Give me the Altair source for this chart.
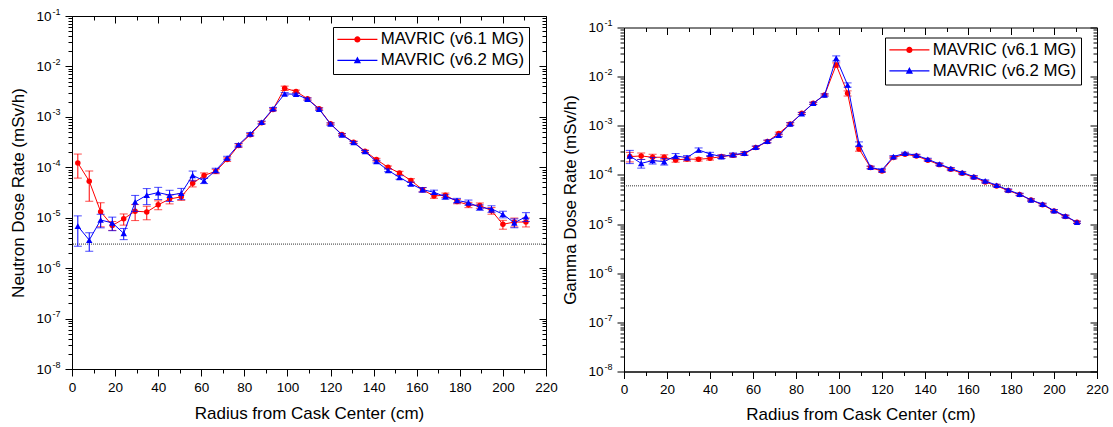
import altair as alt
import pandas as pd

# ---------------- data ----------------
radius = [2.7, 8.0, 13.3, 18.7, 24.0, 29.3, 34.7, 40.0, 45.3, 50.7,
          56.0, 61.3, 66.7, 72.0, 77.3, 82.7, 88.0, 93.3, 98.7, 104.0,
          109.3, 114.7, 120.0, 125.3, 130.7, 136.0, 141.3, 146.7, 152.0, 157.3,
          162.7, 168.0, 173.3, 178.7, 184.0, 189.3, 194.7, 200.0, 205.3, 210.7]

neutron_v61 = [1.22e-4, 5.3e-5, 1.32e-5, 7.0e-6, 9.5e-6, 1.35e-5, 1.3e-5, 1.8e-5, 2.35e-5, 2.6e-5,
               4.8e-5, 6.9e-5, 8.3e-5, 1.42e-4, 2.7e-4, 4.4e-4, 7.6e-4, 1.4e-3, 3.7e-3, 3.2e-3,
               2.28e-3, 1.45e-3, 7.3e-4, 4.45e-4, 3.14e-4, 2.08e-4, 1.42e-4, 1.0e-4, 7.7e-5, 5.5e-5,
               3.6e-5, 2.7e-5, 2.8e-5, 2.1e-5, 1.8e-5, 1.75e-5, 1.38e-5, 7.4e-6, 8.2e-6, 8.2e-6]
neutron_v62 = [6.8e-6, 3.6e-6, 9.0e-6, 7.9e-6, 4.9e-6, 2.05e-5, 2.8e-5, 3.15e-5, 2.8e-5, 3.05e-5,
               6.9e-5, 5.4e-5, 8.7e-5, 1.53e-4, 2.8e-4, 4.6e-4, 7.8e-4, 1.45e-3, 2.86e-3, 2.8e-3,
               2.25e-3, 1.42e-3, 7.2e-4, 4.4e-4, 3.1e-4, 2.05e-4, 1.3e-4, 8.7e-5, 6.3e-5, 4.7e-5,
               3.6e-5, 3.2e-5, 2.6e-5, 2.2e-5, 2.0e-5, 1.6e-5, 1.5e-5, 1.17e-5, 7.9e-6, 1.05e-5]
neutron_err61 = [0.5, 0.6, 0.5, 0.2, 0.25, 0.35, 0.3, 0.2, 0.2, 0.15,
                 0.15, 0.12, 0.1, 0.08, 0.08, 0.06, 0.06, 0.06, 0.1, 0.06,
                 0.05, 0.05, 0.05, 0.05, 0.05, 0.05, 0.06, 0.06, 0.08, 0.08,
                 0.1, 0.1, 0.1, 0.1, 0.12, 0.12, 0.15, 0.2, 0.2, 0.2]
neutron_err62 = [0.6, 0.4, 0.3, 0.3, 0.25, 0.35, 0.35, 0.27, 0.25, 0.25,
                 0.22, 0.12, 0.1, 0.08, 0.06, 0.06, 0.06, 0.06, 0.06, 0.05,
                 0.05, 0.05, 0.05, 0.05, 0.05, 0.05, 0.06, 0.06, 0.08, 0.08,
                 0.1, 0.1, 0.1, 0.1, 0.12, 0.12, 0.15, 0.15, 0.2, 0.2]

gamma_v61 = [2.36e-4, 2.43e-4, 2.29e-4, 2.29e-4, 2.02e-4, 2.11e-4, 2.08e-4, 2.18e-4, 2.36e-4, 2.51e-4,
             2.72e-4, 3.6e-4, 4.77e-4, 7.0e-4, 1.09e-3, 1.79e-3, 2.87e-3, 4.24e-3, 1.73e-2, 4.58e-3,
             3.38e-4, 1.41e-4, 1.2e-4, 2.25e-4, 2.63e-4, 2.43e-4, 1.99e-4, 1.62e-4, 1.3e-4, 1.08e-4,
             8.97e-5, 7.21e-5, 5.98e-5, 4.8e-5, 3.98e-5, 3.1e-5, 2.46e-5, 1.85e-5, 1.42e-5, 1.09e-5]
gamma_v62 = [2.43e-4, 1.72e-4, 1.96e-4, 1.87e-4, 2.43e-4, 2.25e-4, 3.22e-4, 2.67e-4, 2.36e-4, 2.59e-4,
             2.76e-4, 3.66e-4, 4.83e-4, 6.4e-4, 1.09e-3, 1.77e-3, 2.87e-3, 4.24e-3, 2.36e-2, 6.78e-3,
             4.27e-4, 1.43e-4, 1.26e-4, 2.36e-4, 2.76e-4, 2.51e-4, 2.08e-4, 1.67e-4, 1.35e-4, 1.12e-4,
             9.25e-5, 7.55e-5, 6.17e-5, 4.95e-5, 4.05e-5, 3.1e-5, 2.54e-5, 1.88e-5, 1.46e-5, 1.09e-5]
gamma_err61 = [0.22, 0.15, 0.15, 0.12, 0.1, 0.1, 0.08, 0.08, 0.08, 0.08,
               0.08, 0.06, 0.06, 0.06, 0.06, 0.05, 0.05, 0.05, 0.1, 0.12,
               0.1, 0.06, 0.06, 0.05, 0.05, 0.05, 0.05, 0.05, 0.05, 0.05,
               0.05, 0.05, 0.05, 0.05, 0.05, 0.05, 0.05, 0.05, 0.05, 0.05]
gamma_err62 = [0.3, 0.2, 0.15, 0.15, 0.12, 0.1, 0.1, 0.08, 0.08, 0.08,
               0.08, 0.06, 0.06, 0.06, 0.06, 0.05, 0.05, 0.05, 0.12, 0.1,
               0.1, 0.06, 0.06, 0.05, 0.05, 0.05, 0.05, 0.05, 0.05, 0.05,
               0.05, 0.05, 0.05, 0.05, 0.05, 0.05, 0.05, 0.05, 0.05, 0.05]

series_names = ["MAVRIC (v6.1 MG)", "MAVRIC (v6.2 MG)"]
series_colors = ["#FF0000", "#0000FF"]
series_shapes = ["circle", "triangle-up"]
ref_levels = [3e-6, 6e-5]
y_titles = ["Neutron Dose Rate (mSv/h)", "Gamma Dose Rate (mSv/h)"]
x_title = "Radius from Cask Center (cm)"

# ---------------- styling ----------------
FONT = "Liberation Sans"
x_vals = list(range(0, 221, 10))
y_vals = [m * 10.0 ** e for e in range(-8, -1) for m in range(1, 10)] + [0.1]
decades = [10.0 ** e for e in range(-8, 0)]
DEC = "abs(log(datum.value)/LN10 - round(log(datum.value)/LN10)) < 0.01"
tick_x = {"condition": {"test": "datum.value % 20 == 0", "value": 7}, "value": 4}
tick_y = {"condition": {"test": DEC, "value": 7}, "value": 4}

# legend symbols: a short line with the marker in the middle
legend_paths = [
    "M-4,-0.12L4,-0.12L4,0.12L-4,0.12Z M0.62,0A0.62,0.62 0 1,1 -0.62,0A0.62,0.62 0 1,1 0.62,0Z",
    "M-4,-0.12L4,-0.12L4,0.12L-4,0.12Z M0,-0.8L0.72,0.55L-0.72,0.55Z",
]


def long_df(v61, v62, e61, e62):
    rows = []
    for name, vals, errs in ((series_names[0], v61, e61), (series_names[1], v62, e62)):
        for r, v, e in zip(radius, vals, errs):
            rows.append({"r": r, "v": v, "lo": v * (1 - e), "hi": v * (1 + e), "s": name})
    return pd.DataFrame(rows)


def panel(df, ytitle, ref, w, h, legend_y, title_pad):
    xs = alt.Scale(domain=[0, 220], nice=False, zero=False)
    ys = alt.Scale(type="log", domain=[1e-8, 1e-1], nice=False)
    base = alt.Chart(df)

    ax_main = base.mark_point(opacity=0).encode(
        x=alt.X("r:Q", scale=xs, axis=alt.Axis(
            orient="bottom", values=x_vals, title=x_title,
            labelExpr="datum.value % 20 == 0 ? datum.label : ''",
            tickSize=tick_x, labelFlush=False, labelOverlap=False,
            labelPadding=4, titlePadding=title_pad, labelFontSize=13.5, titleFontSize=17,
            grid=False)),
        y=alt.Y("v:Q", scale=ys, axis=alt.Axis(
            orient="left", values=y_vals, title=ytitle,
            labelExpr=f"{DEC} ? '10' : ''",
            tickSize=tick_y, labelPadding=14, titlePadding=8,
            labelFontSize=13.5, titleFontSize=17, grid=False,
            labelFlush=False, labelOverlap=False)),
    )
    ax_mirror = base.mark_point(opacity=0).encode(
        x=alt.X("r:Q", scale=xs, axis=alt.Axis(
            orient="bottom", offset=-h, values=x_vals, labels=False, domain=False,
            tickSize=tick_x, title=None, grid=False)),
        y=alt.Y("v:Q", scale=ys, axis=alt.Axis(
            orient="left", values=decades,
            labelExpr="'' + round(log(datum.value)/LN10)",
            tickSize=0, domain=False, labelPadding=12, labelOffset=-5,
            labelFontSize=9, title=None, grid=False,
            labelFlush=False, labelOverlap=False)),
    )
    ax_right = base.mark_point(opacity=0).encode(
        x=alt.X("r:Q", scale=xs, axis=None),
        y=alt.Y("v:Q", scale=ys, axis=alt.Axis(
            orient="left", offset=-w, values=y_vals, labels=False, domain=False,
            tickSize=tick_y, title=None, grid=False)),
    )

    ref_line = alt.Chart(pd.DataFrame({"v": [ref]})).mark_rule(
        color="#333333", strokeWidth=1, strokeDash=[1, 1]
    ).encode(y=alt.Y("v:Q", scale=ys, axis=None))

    layers = [ax_main, ax_mirror, ax_right, ref_line]
    for name, color, shape in zip(series_names, series_colors, series_shapes):
        sub = base.transform_filter(alt.datum.s == name)
        X = alt.X("r:Q", scale=xs, axis=None)
        layers += [
            sub.mark_rule(color=color, strokeWidth=1).encode(
                x=X, y=alt.Y("lo:Q", scale=ys, axis=None), y2="hi:Q"),
            sub.mark_tick(color=color, orient="horizontal", size=8, thickness=1).encode(
                x=X, y=alt.Y("lo:Q", scale=ys, axis=None)),
            sub.mark_tick(color=color, orient="horizontal", size=8, thickness=1).encode(
                x=X, y=alt.Y("hi:Q", scale=ys, axis=None)),
            sub.mark_line(color=color, strokeWidth=1).encode(
                x=X, y=alt.Y("v:Q", scale=ys, axis=None)),
            sub.mark_point(color=color, filled=True, opacity=1, shape=shape,
                           size=30 if shape == "circle" else 42).encode(
                x=X, y=alt.Y("v:Q", scale=ys, axis=None)),
        ]

    leg = alt.Legend(
        orient="none", legendX=261, legendY=legend_y, title=None,
        labelFont=FONT, labelFontSize=16.8, labelColor="black", labelLimit=400,
        symbolSize=100, symbolOffset=12, labelOffset=15, padding=4, rowPadding=3,
        strokeColor="black", fillColor="white", symbolStrokeWidth=0,
        symbolOpacity=1, cornerRadius=0)
    leg_df = pd.DataFrame({"r": [-50, -50], "v": [1e-5, 1e-5], "s": series_names})
    legend_layer = alt.Chart(leg_df).mark_point(
        filled=True, opacity=1, clip=True, size=100).encode(
        x=alt.X("r:Q", scale=xs, axis=None),
        y=alt.Y("v:Q", scale=ys, axis=None),
        color=alt.Color("s:N", scale=alt.Scale(domain=series_names, range=series_colors), legend=leg),
        shape=alt.Shape("s:N", scale=alt.Scale(domain=series_names, range=legend_paths), legend=leg),
    )
    layers.append(legend_layer)

    return alt.layer(*layers).resolve_axis(x="independent", y="independent").properties(
        width=w, height=h)


left = panel(long_df(neutron_v61, neutron_v62, neutron_err61, neutron_err62),
             y_titles[0], ref_levels[0], 474, 353, 11, 12)
right_panel = panel(long_df(gamma_v61, gamma_v62, gamma_err61, gamma_err62),
                    y_titles[1], ref_levels[1], 473, 344, 10, 10)

# invisible strip that lowers the right-hand panel a little
spacer = alt.Chart(pd.DataFrame({"a": [0]})).mark_point(opacity=0).properties(
    width=473, height=2, view=alt.ViewBackground(stroke="transparent"))
right = alt.vconcat(spacer, right_panel, spacing=-3.5).resolve_scale(
    color="independent", shape="independent"
).resolve_legend(color="independent", shape="independent")

chart = alt.concat(left, right, columns=2, align="none", spacing=3).resolve_scale(
    color="independent", shape="independent"
).resolve_legend(
    color="independent", shape="independent"
).properties(
    padding={"left": 9, "top": 6, "right": 0, "bottom": 0}
).configure_view(
    stroke="black", strokeWidth=1
).configure_axis(
    labelFont=FONT, titleFont=FONT, labelColor="black", titleColor="black",
    titleFontWeight="normal", tickColor="black", domainColor="black", tickWidth=1
)

chart.save("out.html", embed_options={"renderer": "svg", "actions": False})
